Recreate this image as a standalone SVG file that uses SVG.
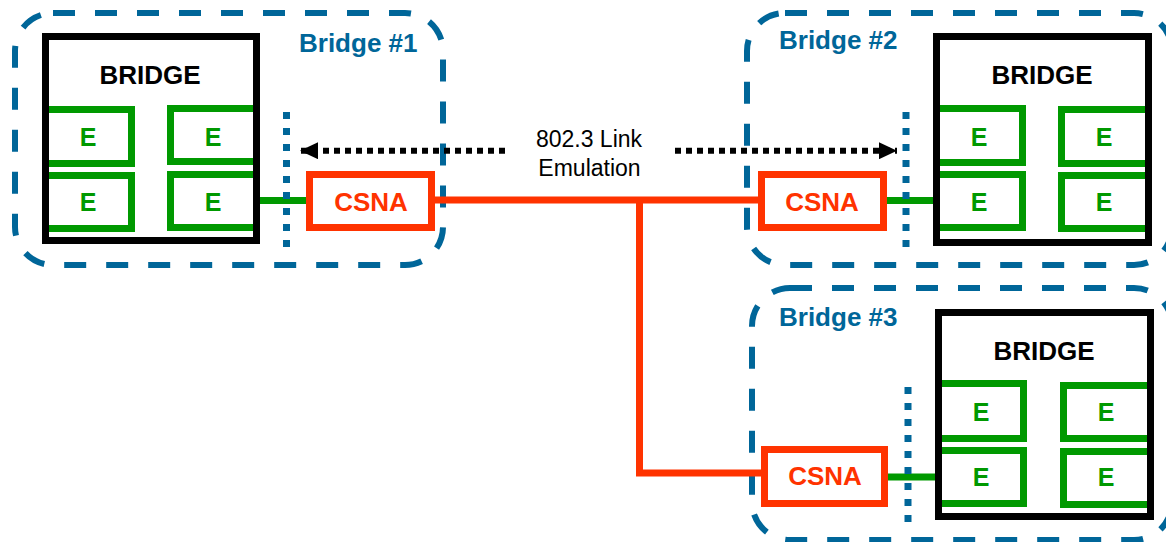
<svg xmlns="http://www.w3.org/2000/svg" width="1166" height="542" viewBox="0 0 1166 542">
<style>
.zone{fill:none;stroke:#006699;stroke-width:6;stroke-dasharray:22 20}
.zlabel{font-family:"Liberation Sans",Arial,sans-serif;font-weight:bold;font-size:26px;fill:#006699}
.bridge{fill:#fff;stroke:none}
.bframe{fill:none;stroke:#000;stroke-width:7}
.btext{font-family:"Liberation Sans",Arial,sans-serif;font-weight:bold;font-size:26px;fill:#000;text-anchor:middle}
.ebox{fill:none;stroke:#009900;stroke-width:7}
.etext{font-family:"Liberation Sans",Arial,sans-serif;font-weight:bold;font-size:25px;fill:#009900;text-anchor:middle}
.csna{fill:#fff;stroke:#FF3300;stroke-width:7}
.ctext{font-family:"Liberation Sans",Arial,sans-serif;font-weight:bold;font-size:26px;fill:#FF3300;text-anchor:middle}
.green{stroke:#009900;stroke-width:7;fill:none}
.orange{stroke:#FF3300;stroke-width:7;fill:none;stroke-linejoin:miter}
.bdot{stroke:#006699;stroke-width:7;stroke-dasharray:7 9;fill:none}
.kdot{stroke:#000;stroke-width:6;stroke-dasharray:6 5;fill:none}
.ltext{font-family:"Liberation Sans",Arial,sans-serif;font-size:23px;fill:#000;text-anchor:middle}
</style>
<defs>
<marker id="ah" markerUnits="userSpaceOnUse" markerWidth="18" markerHeight="17" refX="18" refY="8.5" orient="auto">
<path d="M0,0 L18,8.5 L0,17 Z" fill="#000"/>
</marker>
</defs>

<g id="zone1">
<rect class="zone" x="15" y="13" width="428" height="252" rx="38"/>
<text class="zlabel" x="299" y="52">Bridge #1</text>
</g>
<g id="zone2">
<rect class="zone" x="747" y="13" width="425" height="252" rx="38"/>
<text class="zlabel" x="779" y="49">Bridge #2</text>
</g>
<g id="zone3">
<rect class="zone" x="752" y="288" width="420" height="252" rx="38"/>
<text class="zlabel" x="779" y="326">Bridge #3</text>
</g>

<g id="connectors">
<path class="green" d="M260,200.5 H306"/>
<path class="green" d="M887,200.5 H933"/>
<path class="green" d="M888,477 H935"/>
<path class="orange" d="M435,200 H758"/>
<path class="orange" d="M639.5,200 V473 H761"/>
<path class="bdot" d="M286.5,112 V248"/>
<path class="bdot" d="M906,112 V248"/>
<path class="bdot" d="M908,387 V523"/>
<path class="kdot" d="M505,150.7 H300" marker-end="url(#ah)"/>
<path class="kdot" d="M675,150.7 H897" marker-end="url(#ah)"/>
<text class="ltext" x="589" y="147">802.3 Link</text>
<text class="ltext" x="589.5" y="176">Emulation</text>
</g>

<g id="bridge1">
<rect class="bridge" x="45.5" y="36.5" width="211" height="204"/>
<rect class="ebox" x="45.5" y="109.5" width="86" height="54"/>
<rect class="ebox" x="170.5" y="108.5" width="86" height="53"/>
<rect class="ebox" x="45.5" y="175.5" width="86" height="53"/>
<rect class="ebox" x="170.5" y="174.5" width="86" height="53"/>
<rect class="bframe" x="45.5" y="36.5" width="211" height="204"/>
<text class="btext" x="150" y="84">BRIDGE</text>
<text class="etext" x="88" y="146">E</text>
<text class="etext" x="213" y="146">E</text>
<text class="etext" x="88" y="211">E</text>
<text class="etext" x="213" y="211">E</text>
</g>

<g id="bridge2">
<rect class="bridge" x="936.5" y="36.5" width="212" height="206"/>
<rect class="ebox" x="936.5" y="108.5" width="86" height="54"/>
<rect class="ebox" x="1061.5" y="109.5" width="87" height="54"/>
<rect class="ebox" x="936.5" y="174.5" width="86" height="53"/>
<rect class="ebox" x="1061.5" y="175.5" width="87" height="53"/>
<rect class="bframe" x="936.5" y="36.5" width="212" height="206"/>
<text class="btext" x="1042" y="84">BRIDGE</text>
<text class="etext" x="979" y="146">E</text>
<text class="etext" x="1104" y="146">E</text>
<text class="etext" x="979" y="211">E</text>
<text class="etext" x="1104" y="211">E</text>
</g>

<g id="bridge3">
<rect class="bridge" x="938.5" y="312.5" width="212" height="204"/>
<rect class="ebox" x="938.5" y="383.5" width="85" height="55"/>
<rect class="ebox" x="1063.5" y="385.5" width="87" height="53"/>
<rect class="ebox" x="938.5" y="450.5" width="85" height="53"/>
<rect class="ebox" x="1063.5" y="451.5" width="87" height="53"/>
<rect class="bframe" x="938.5" y="312.5" width="212" height="204"/>
<text class="btext" x="1044" y="360">BRIDGE</text>
<text class="etext" x="981" y="421">E</text>
<text class="etext" x="1106" y="421">E</text>
<text class="etext" x="981" y="486">E</text>
<text class="etext" x="1106" y="486">E</text>
</g>

<g id="csna1">
<rect class="csna" x="309.5" y="174.5" width="122" height="53"/>
<text class="ctext" x="371" y="211">CSNA</text>
</g>
<g id="csna2">
<rect class="csna" x="761.5" y="174.5" width="122" height="53"/>
<text class="ctext" x="822" y="211">CSNA</text>
</g>
<g id="csna3">
<rect class="csna" x="764.5" y="449.5" width="120" height="54"/>
<text class="ctext" x="825" y="485">CSNA</text>
</g>
</svg>
